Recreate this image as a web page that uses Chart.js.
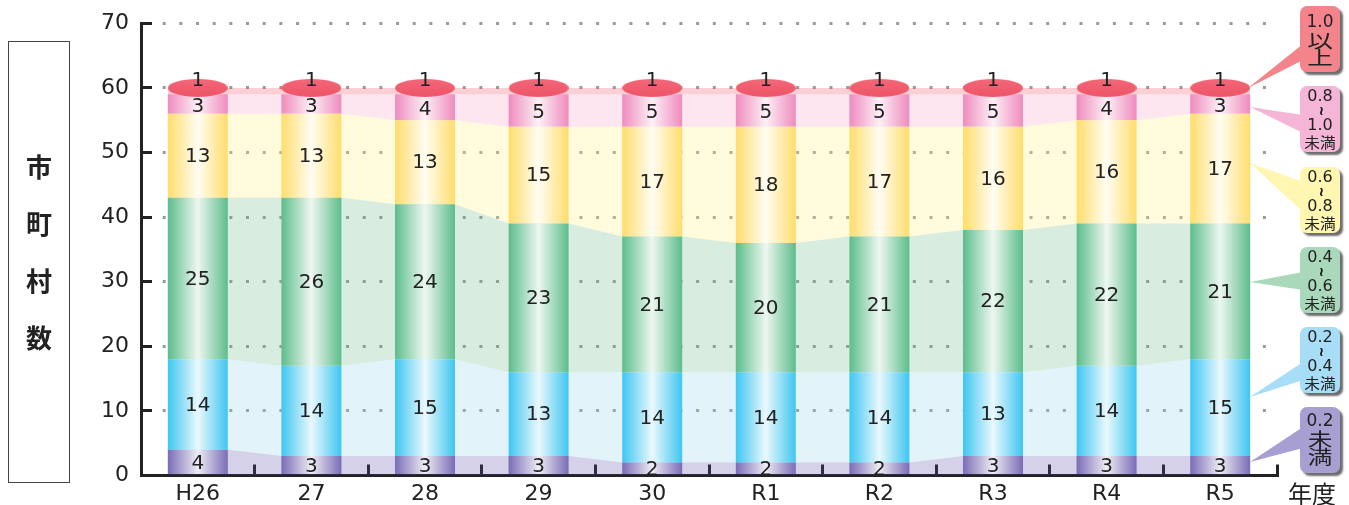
<!DOCTYPE html>
<html>
<head>
<meta charset="utf-8">
<script src="https://cdn.jsdelivr.net/npm/chart.js@4.4.1/dist/chart.umd.min.js"></script>
<style>
html,body{margin:0;padding:0;background:#fff;}
#wrap{position:relative;width:1349px;height:505px;overflow:hidden;}
#chart{position:absolute;left:0;top:0;}
#ytitle{position:absolute;left:8px;top:41px;width:62px;height:442px;border:1.5px solid #444;box-sizing:border-box;}
#ytitle span{position:absolute;left:0;width:100%;text-align:center;font-family:"Noto Sans CJK JP",sans-serif;font-weight:700;font-size:26px;line-height:30px;color:#222;}
</style>
</head>
<body>
<div id="wrap">
  <canvas id="chart" width="1349" height="505"></canvas>
  <div id="ytitle">
    <span style="top:109px">市</span>
    <span style="top:166px">町</span>
    <span style="top:223px">村</span>
    <span style="top:280px">数</span>
  </div>
</div>
<script>
// ---------- data ----------
const categories = ['H26','27','28','29','30','R1','R2','R3','R4','R5'];
const under02    = [4,3,3,3,2,2,2,3,3,3];
const from02to04 = [14,14,15,13,14,14,14,13,14,15];
const from04to06 = [25,26,24,23,21,20,21,22,22,21];
const from06to08 = [13,13,13,15,17,18,17,16,16,17];
const from08to10 = [3,3,4,5,5,5,5,5,4,3];
const over10     = [1,1,1,1,1,1,1,1,1,1];
const yTickValues = [0,10,20,30,40,50,60,70];
const seriesNames = ['0.2未満','0.2～0.4未満','0.4～0.6未満','0.6～0.8未満','0.8～1.0未満','1.0以上'];

// ---------- styles ----------
const BAR_FRAC = 0.528;
const barStyles = [
  {edge:'#7A6CB6', center:'#EEECF3'},
  {edge:'#3EC6F1', center:'#EAF8FD'},
  {edge:'#5CBD8B', center:'#EEF7F1'},
  {edge:'#FFDD6C', center:'#FFFDF3'},
  {edge:'#EF8BBE', center:'#FDF0F6'}
];
const bandColors = [
  'rgba(87,71,163,0.25)',
  'rgba(139,207,235,0.25)',
  'rgba(99,179,127,0.25)',
  'rgba(255,239,115,0.25)',
  'rgba(247,155,195,0.25)',
  'rgba(235,67,83,0.25)'
];

const allSeries = [under02, from02to04, from04to06, from06to08, from08to10, over10];
const cumulative = [];
allSeries.forEach((s, k) => {
  cumulative.push(s.map((v, i) => v + (k > 0 ? cumulative[k-1][i] : 0)));
});

function barGradient(st) {
  return (c) => {
    const chart = c.chart;
    const xs = chart.scales && chart.scales.x;
    if (!xs || c.dataIndex == null || !chart.chartArea) return st.edge;
    const cx = xs.getPixelForValue(c.dataIndex);
    const half = xs.width / categories.length * BAR_FRAC / 2;
    const g = chart.ctx.createLinearGradient(cx - half, 0, cx + half, 0);
    g.addColorStop(0, st.edge);
    g.addColorStop(0.5, st.center);
    g.addColorStop(1, st.edge);
    return g;
  };
}

function makeCap(w, h) {
  const cv = document.createElement('canvas');
  cv.width = w; cv.height = h + 2;
  const c = cv.getContext('2d');
  const g = c.createLinearGradient(0, 0, 0, h);
  g.addColorStop(0, '#F4697A');
  g.addColorStop(1, '#EE5568');
  c.fillStyle = g;
  c.beginPath();
  c.ellipse(w/2, (h+2)/2, w/2, h/2, 0, 0, Math.PI*2);
  c.fill();
  return cv;
}
const capImage = makeCap(60, 18);

const hw = BAR_FRAC / 2;
const datasets = [];
cumulative.forEach((cum, k) => {
  const pts = [];
  cum.forEach((v, i) => { pts.push({x: i - hw, y: v}); pts.push({x: i + hw, y: v}); });
  datasets.push({
    type: 'line', label: seriesNames[k] + ' band', data: pts,
    xAxisID: 'x2', yAxisID: 'y2',
    borderWidth: 0, borderColor: 'transparent', pointRadius: 0, tension: 0,
    backgroundColor: bandColors[k], fill: k === 0 ? 'origin' : '-1', order: 10
  });
});
for (let k = 0; k < 5; k++) {
  datasets.push({
    type: 'bar', label: seriesNames[k], data: allSeries[k],
    xAxisID: 'x', yAxisID: 'y', stack: 'bars', grouped: false,
    backgroundColor: barGradient(barStyles[k]), borderWidth: 0,
    barPercentage: BAR_FRAC, categoryPercentage: 1, order: 1
  });
}
datasets.push({
  type: 'line', label: seriesNames[5],
  data: cumulative[5].map((v, i) => ({x: i, y: v})),
  xAxisID: 'x2', yAxisID: 'y2', showLine: false,
  pointStyle: capImage, pointRadius: 10, order: 0
});
const FIRST_BAR = 6, CAP = 11;

const FONT = '"DejaVu Sans", sans-serif';

const labelPlugin = {
  id: 'labels',
  afterDatasetsDraw(chart) {
    const ctx = chart.ctx;
    ctx.save();
    ctx.fillStyle = '#222';
    ctx.font = '20px ' + FONT;
    ctx.textAlign = 'center';
    ctx.textBaseline = 'middle';
    const capMeta = chart.getDatasetMeta(CAP);
    for (let k = 0; k < 5; k++) {
      const meta = chart.getDatasetMeta(FIRST_BAR + k);
      meta.data.forEach((el, i) => {
        let top = el.y;
        if (k === 4) top = Math.max(el.y, capMeta.data[i].y + 9);
        let y = (top + el.base) / 2 + 1;
        if (k === 0) y += 1;
        ctx.fillText(String(allSeries[k][i]), el.x, y);
      });
    }
    capMeta.data.forEach((el, i) => {
      ctx.fillText(String(over10[i]), el.x, el.y - 7);
    });
    ctx.restore();
  }
};

function callout(ctx, o) {
  const x = 1300, w = 40, r = 7;
  ctx.save();
  ctx.shadowColor = 'rgba(60,60,60,0.75)';
  ctx.shadowOffsetX = 3; ctx.shadowOffsetY = 3; ctx.shadowBlur = 2;
  ctx.fillStyle = o.fill;
  ctx.beginPath();
  ctx.roundRect(x, o.y, w, o.h, r);
  ctx.fill();
  ctx.restore();
  ctx.save();
  ctx.fillStyle = o.fill;
  ctx.beginPath();
  ctx.moveTo(o.tip[0], o.tip[1]);
  ctx.lineTo(x + 3, o.b1);
  ctx.lineTo(x + 3, o.b2);
  ctx.closePath();
  ctx.fill();
  ctx.restore();
  ctx.save();
  ctx.fillStyle = '#222';
  ctx.textAlign = 'center';
  ctx.textBaseline = 'middle';
  o.lines.forEach(l => {
    ctx.save();
    ctx.translate(x + w/2, l.y);
    if (l.rot) ctx.rotate(Math.PI / 2);
    ctx.scale(l.sx || 1, 1);
    ctx.font = l.font;
    ctx.fillText(l.t, 0, 0);
    ctx.restore();
  });
  ctx.restore();
}

const CJK = '"Noto Sans CJK JP", sans-serif';
const calloutPlugin = {
  id: 'callouts',
  afterDraw(chart) {
    const ctx = chart.ctx;
    const num = '16px ' + FONT, wave = 'bold 16px ' + FONT;
    const four = (y0, fill, a, b, tip, b1, b2) => ({
      y: y0, h: 66, fill, tip, b1, b2,
      lines: [
        {t: a, y: y0 + 11, font: num},
        {t: '~', y: y0 + 25, font: wave, rot: true, sx: 0.8},
        {t: b, y: y0 + 40, font: num},
        {t: '未満', y: y0 + 56, font: '15px ' + CJK, sx: 1.05}
      ]
    });
    callout(ctx, {
      y: 6, h: 66, fill: '#F3848C', tip: [1248, 88], b1: 44, b2: 60,
      lines: [
        {t: '1.0', y: 23, font: '17px ' + FONT},
        {t: '以', y: 41, font: '19px ' + CJK, sx: 1.35},
        {t: '上', y: 58, font: '19px ' + CJK, sx: 1.35}
      ]
    });
    callout(ctx, four(86, '#F5B5D6', '0.8', '1.0', [1250, 107], 115, 133));
    callout(ctx, four(167, '#FFF6B2', '0.6', '0.8', [1250, 163], 182, 212));
    callout(ctx, four(247, '#A9D9BA', '0.4', '0.6', [1250, 282], 272, 290));
    callout(ctx, four(327, '#A7DDF6', '0.2', '0.4', [1250, 397], 362, 380));
    callout(ctx, {
      y: 407, h: 66, fill: '#A79ED2', tip: [1250, 462], b1: 427, b2: 448,
      lines: [
        {t: '0.2', y: 422, font: '17px ' + FONT},
        {t: '未', y: 440, font: '19px ' + CJK, sx: 1.3},
        {t: '満', y: 457, font: '19px ' + CJK, sx: 1.3}
      ]
    });
    ctx.save();
    ctx.fillStyle = '#222';
    ctx.font = '24px ' + CJK;
    ctx.textAlign = 'center';
    ctx.textBaseline = 'middle';
    ctx.fillText('年度', 1312, 494);
    ctx.restore();
  }
};

new Chart(document.getElementById('chart'), {
  data: { labels: categories, datasets },
  options: {
    responsive: false,
    animation: false,
    events: [],
    layout: { padding: { left: 0, right: 72, top: 23.3, bottom: 0 } },
    plugins: { legend: { display: false }, tooltip: { enabled: false } },
    scales: {
      x: {
        type: 'category', stacked: true, offset: true,
        grid: { offset: true, drawOnChartArea: false, drawTicks: true, tickLength: -11, tickColor: '#222', tickWidth: 3 },
        border: { display: true, color: '#222', width: 3 },
        ticks: { font: { family: 'DejaVu Sans', size: 22 }, color: '#222', padding: 17, maxRotation: 0, autoSkip: false },
        afterFit: s => { s.height = 29.5; s.paddingLeft = 0; s.paddingRight = 0; }
      },
      y: {
        type: 'linear', stacked: true, min: 0, max: 70,
        afterBuildTicks: s => { s.ticks = yTickValues.map(v => ({value: v})); },
        grid: {
          drawOnChartArea: true, drawTicks: true, tickLength: -11, tickColor: '#222', tickWidth: 3,
          color: c => (c.tick && c.tick.value === 0) ? 'rgba(0,0,0,0)' : '#9a9a9a', lineWidth: 3
        },
        border: { display: true, color: '#222', width: 3, dash: [3, 13.67], dashOffset: 13.67 },
        ticks: { font: { family: 'DejaVu Sans', size: 22 }, color: '#222', padding: 23 },
        afterFit: s => { s.width = 141; s.paddingTop = 0; s.paddingBottom = 0; }
      },
      x2: { type: 'linear', display: false, min: -0.5, max: 9.5, bounds: 'data' },
      y2: { type: 'linear', display: false, min: 0, max: 70, bounds: 'data' }
    }
  },
  plugins: [labelPlugin, calloutPlugin]
});
</script>
</body>
</html>
